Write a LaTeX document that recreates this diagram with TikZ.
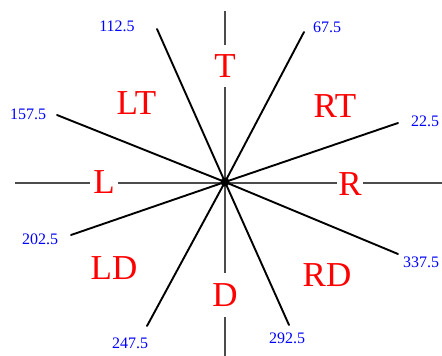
\documentclass[tikz,border=0pt]{standalone}
\usepackage{fontspec}
\setmainfont{Liberation Serif}
\begin{document}
\begin{tikzpicture}[x=1pt,y=-1pt,
  axis/.style={draw=black!70,line width=1.3pt},
  ray/.style={draw=black,line width=1.9pt},
  dir/.style={text=red,font=\fontsize{35}{35}\selectfont,inner sep=0pt},
  ang/.style={text=blue,font=\fontsize{16}{16}\selectfont,inner sep=0pt}]
\useasboundingbox[fill=white] (0,0) rectangle (442,356);
% centre
\coordinate (o) at (225,182);
% axis ends
\coordinate (at) at (225,11);
\coordinate (ab) at (225,356);
\coordinate (al) at (15,183);
\coordinate (ar) at (442,183);
\draw[axis] (at) -- (ab);
\draw[axis] (al) -- (ar);
% ray ends
\coordinate (e22) at (398,123);
\coordinate (e67) at (304,32);
\coordinate (e112) at (157,29);
\coordinate (e157) at (57,115);
\coordinate (e202) at (71,235);
\coordinate (e247) at (147,326);
\coordinate (e292) at (289,325);
\coordinate (e337) at (398,254);
\foreach \e in {e22,e67,e112,e157,e202,e247,e292,e337}
  \draw[ray,line cap=round] (o) -- (\e);
\fill[black] (o) circle (4.5pt);
% direction labels
\node[dir,fill=white,inner ysep=9.5pt,inner xsep=2pt] (T) at (225,66) {T};
\node[dir,fill=white,inner ysep=10.5pt,inner xsep=2pt] (D) at (225,295) {D};
\node[dir,fill=white,inner xsep=3pt,inner ysep=1pt] (L) at (104,182) {L};
\node[dir,fill=white,inner xsep=1pt,inner ysep=1pt] (R) at (350,184) {R};
\node[dir] (LT) at (136.5,103.5) {LT};
\node[dir] (RT) at (335,106) {RT};
\node[dir] (LD) at (114,268) {LD};
\node[dir] (RD) at (327,275) {RD};
% angle labels
\node[ang] (n112) at (117,26) {112.5};
\node[ang] (n67) at (327,27.5) {67.5};
\node[ang] (n157) at (28,114.5) {157.5};
\node[ang] (n22) at (425,121) {22.5};
\node[ang] (n202) at (40,239.5) {202.5};
\node[ang] (n247) at (130,343) {247.5};
\node[ang] (n292) at (287,338.5) {292.5};
\node[ang] (n337) at (421,262.5) {337.5};
\end{tikzpicture}
\end{document}
